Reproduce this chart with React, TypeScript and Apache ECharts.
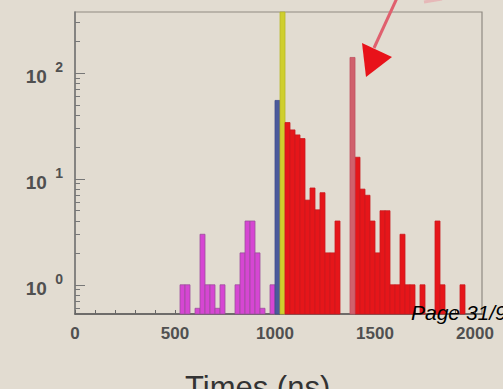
import React, { useEffect, useRef } from "react";
import * as echarts from "echarts";

// ---- data (bin start in ns, counts) ----
const BIN_WIDTH = 25;
const magentaStarts = [525, 550, 600, 625, 650, 675, 700, 725, 800, 825, 850, 875, 900, 925, 975];
const magentaCounts = [1, 1, 0.6, 3, 1, 1, 0.6, 1, 1, 2, 4, 4, 2, 0.6, 1];
const blueStarts = [1000];
const blueCounts = [55];
const yellowStarts = [1025];
const yellowCounts = [1000];
const redStarts = [1050, 1075, 1100, 1125, 1150, 1175, 1200, 1225, 1250, 1275, 1300, 1400, 1425, 1450, 1475, 1500, 1525, 1550, 1575, 1600, 1625, 1650, 1675, 1725, 1800, 1825, 1925];
const redCounts = [34, 29, 26, 24, 6.3, 8.2, 5.1, 7.4, 2, 2, 4, 16, 8, 7, 4, 2, 5, 5, 1, 1, 3, 1, 1, 1, 4, 1, 1];
const spikeStarts = [1375];
const spikeCounts = [140];

const X_MIN = 0;
const X_MAX = 2035;
const Y_MIN = 0.53;
const Y_MAX = 376;
const xLabelValues = [0, 500, 1000, 1500, 2000];
const xTickValues = [0, 100, 200, 300, 400, 500, 600, 700, 800, 900, 1000, 1100, 1200, 1300, 1400, 1500, 1600, 1700, 1800, 1900, 2000];
const yLabelValues = [1, 10, 100];
const yMinorTickValues = [0.6, 0.7, 0.8, 0.9, 2, 3, 4, 5, 6, 7, 8, 9, 20, 30, 40, 50, 60, 70, 80, 90, 200, 300];

const BG = "#e2dcd1";
const FONT = "Liberation Sans, Arial, sans-serif";

function histSeries(starts: number[], counts: number[], fill: string, stroke: string) {
  return {
    type: "custom",
    xAxisIndex: 0,
    yAxisIndex: 0,
    data: starts.map((s, i) => [s, counts[i]]),
    encode: { x: 0, y: 1 },
    renderItem: (params: any, api: any) => {
      const x0 = api.value(0);
      const v = Math.min(api.value(1), Y_MAX);
      const pTop = api.coord([x0, v]);
      const pBot = api.coord([x0 + BIN_WIDTH, Y_MIN]);
      return {
        type: "rect",
        shape: { x: pTop[0], y: pTop[1], width: pBot[0] - pTop[0], height: pBot[1] - pTop[1] },
        style: { fill, stroke, lineWidth: 0.8 },
      };
    },
  };
}

export default function App() {
  const ref = useRef<HTMLDivElement>(null);
  useEffect(() => {
    if (!ref.current) return;
    const chart = echarts.init(ref.current, undefined, { renderer: "svg" });
    const axisLabelColor = "#505050";
    chart.setOption({
      animation: false,
      backgroundColor: BG,
      grid: { left: 75, top: 12, right: 21, bottom: 75, show: true, borderColor: "#8f8a82", borderWidth: 1.2, backgroundColor: "transparent" },
      xAxis: {
        type: "value",
        min: X_MIN,
        max: X_MAX,
        interval: 500,
        axisLine: { show: true, lineStyle: { color: "#555", width: 1.5 } },
        axisTick: { show: true, inside: true, length: 4, customValues: xTickValues, lineStyle: { color: "#666" } },
        axisLabel: {
          customValues: xLabelValues,
          margin: 11,
          color: axisLabelColor,
          fontSize: 17,
          fontWeight: "bold",
          fontFamily: FONT,
          formatter: (v: number) => String(v),
        },
        splitLine: { show: false },
      },
      yAxis: [
        {
          type: "log",
          logBase: 10,
          min: Y_MIN,
          max: Y_MAX,
          axisLine: { show: true, lineStyle: { color: "#777", width: 1.5 } },
          axisTick: { show: true, inside: true, length: 10, customValues: yLabelValues, lineStyle: { color: "#777" } },
          axisLabel: {
            customValues: yLabelValues,
            margin: 12,
            formatter: (v: number) => `{b|10}{s| }{e|${Math.round(Math.log10(v))}}`,
            rich: {
              b: { fontSize: 19, fontWeight: "bold", color: axisLabelColor, fontFamily: FONT, lineHeight: 26, verticalAlign: "bottom" },
              s: { fontSize: 30, lineHeight: 26 },
              e: { fontSize: 14, fontWeight: "bold", color: axisLabelColor, fontFamily: FONT, lineHeight: 26, verticalAlign: "top" },
            },
          },
          splitLine: { show: false },
        },
        {
          type: "log",
          logBase: 10,
          min: Y_MIN,
          max: Y_MAX,
          position: "left",
          axisLine: { show: false },
          axisTick: { show: true, inside: true, length: 5, customValues: yMinorTickValues, lineStyle: { color: "#777" } },
          axisLabel: { show: false },
          splitLine: { show: false },
        },
      ],
      series: [
        histSeries(magentaStarts, magentaCounts, "#d646d3", "#9c4f9c"),
        histSeries(blueStarts, blueCounts, "#4b5a9b", "#3f4d8a"),
        histSeries(yellowStarts, yellowCounts, "#cfcf2e", "#b8b82a"),
        histSeries(redStarts, redCounts, "#e6161a", "#c91a1e"),
        histSeries(spikeStarts, spikeCounts, "#d0606c", "#c05060"),
      ],
      graphic: [
        {
          type: "line",
          shape: { x1: 397, y1: -2, x2: 374, y2: 48 },
          style: { stroke: "#e0606e", lineWidth: 3 },
          z: 100,
        },
        {
          type: "polygon",
          shape: { points: [[362, 43], [392, 57], [366, 77]] },
          style: { fill: "#e8121a" },
          z: 100,
        },
        {
          type: "line",
          shape: { x1: 424, y1: 2, x2: 442, y2: -1 },
          style: { stroke: "#eaa0a6", lineWidth: 3, opacity: 0.6 },
          z: 100,
        },
        {
          type: "text",
          left: 185,
          top: 372,
          style: { text: "Times (ns)", fontSize: 31, fill: "#333", fontFamily: FONT },
          z: 100,
        },
        {
          type: "text",
          x: 411,
          y: 323,
          style: { text: "Page 31/9", fontSize: 21, fontStyle: "italic", fill: "#000", fontFamily: FONT, verticalAlign: "bottom" },
          z: 100,
        },
      ],
    });
    return () => chart.dispose();
  }, []);
  return (
    <div style={{ position: "fixed", left: 0, top: 0, width: 503, height: 389, background: BG }}>
      <div ref={ref} style={{ width: 503, height: 389 }} />
    </div>
  );
}
